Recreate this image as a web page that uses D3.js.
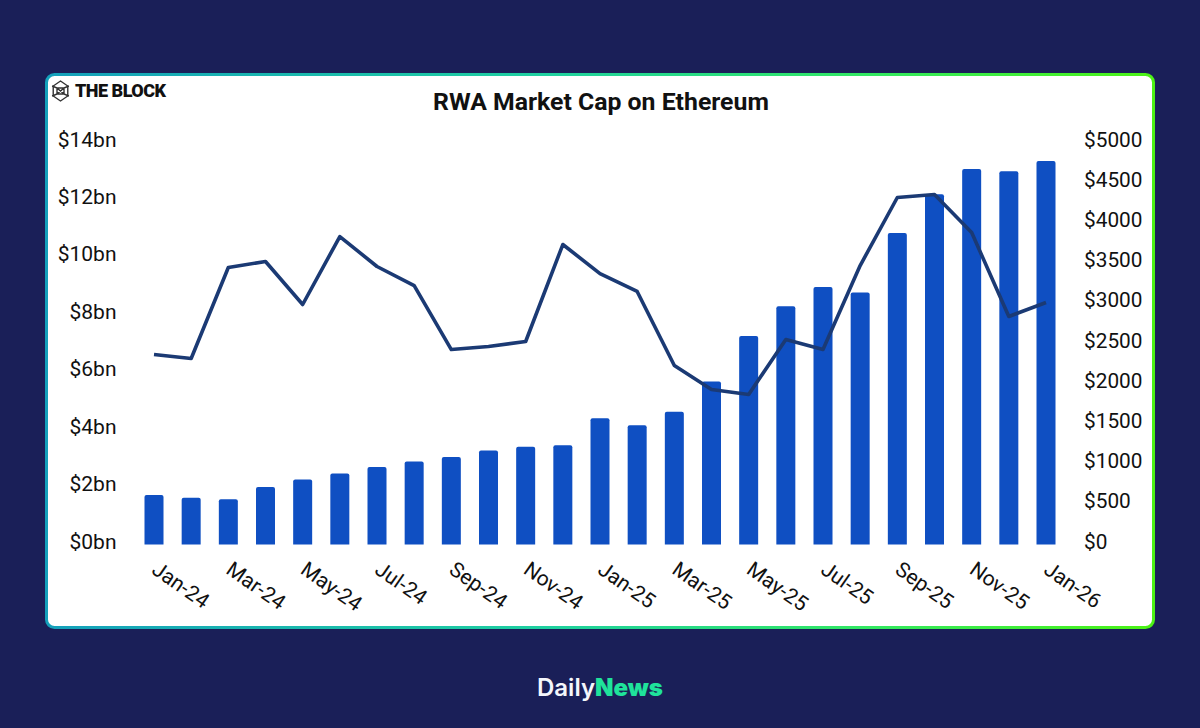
<!DOCTYPE html>
<html>
<head>
<meta charset="utf-8">
<script src="https://d3js.org/d3.v7.min.js"></script>
<style>
html, body { margin: 0; padding: 0; background: #1a1f58; }
svg { display: block; }
text { font-family: Roboto, sans-serif; fill: #111; }
.domain { display: none; }
.tick line { display: none; }
</style>
</head>
<body>
<svg id="chart"></svg>
<script>
const months = ["Jan-24","Feb-24","Mar-24","Apr-24","May-24","Jun-24","Jul-24","Aug-24","Sep-24","Oct-24","Nov-24","Dec-24",
  "Jan-25","Feb-25","Mar-25","Apr-25","May-25","Jun-25","Jul-25","Aug-25","Sep-25","Oct-25","Nov-25","Dec-25","Jan-26"];
// market cap, $bn (left axis)
const rwaCap = [1.72,1.63,1.58,2.0,2.26,2.47,2.7,2.89,3.05,3.27,3.4,3.46,4.4,4.15,4.62,5.68,7.26,8.3,8.97,8.78,10.85,12.2,13.08,13.0,13.36];
// ETH price, $ (right axis)
const ethPrice = [2363,2313,3445,3520,2985,3830,3458,3221,2425,2463,2525,3731,3370,3147,2226,1928,1866,2550,2425,3470,4316,4353,3880,2836,3010];
const leftTicks = [0,2,4,6,8,10,12,14];
const rightTicks = [0,500,1000,1500,2000,2500,3000,3500,4000,4500,5000];

const width = 1200, height = 728;
const svg = d3.select("#chart").attr("width", width).attr("height", height);

const defs = svg.append("defs");
const grad = defs.append("linearGradient").attr("id", "border")
  .attr("x1", "0%").attr("x2", "100%").attr("y1", "0%").attr("y2", "0%");
grad.append("stop").attr("offset", "0%").attr("stop-color", "#14a0bb");
grad.append("stop").attr("offset", "45%").attr("stop-color", "#1fd0a0");
grad.append("stop").attr("offset", "75%").attr("stop-color", "#33e860");
grad.append("stop").attr("offset", "100%").attr("stop-color", "#4cf214");

svg.append("rect").attr("width", width).attr("height", height).attr("fill", "#1a1f58");
svg.append("rect").attr("x", 46.5).attr("y", 74.5).attr("width", 1107).attr("height", 553)
  .attr("rx", 8).attr("fill", "#fff").attr("stroke", "url(#border)").attr("stroke-width", 3);

const x = d3.scalePoint().domain(months).range([154, 1046]);
const yLeft = d3.scaleLinear().domain([0, 14]).range([544.5, 142.5]);
const yRight = d3.scaleLinear().domain([0, 5000]).range([544.5, 142.5]);

const barW = 19;
svg.append("g").selectAll("path").data(months).enter().append("path")
  .attr("d", (d, i) => {
    const l = x(d) - barW / 2, r = l + barW, t = yLeft(rwaCap[i]), b = yLeft(0);
    return `M${l},${b}V${t + 2}Q${l},${t} ${l + 2},${t}H${r - 2}Q${r},${t} ${r},${t + 2}V${b}Z`;
  })
  .attr("fill", "#0f4fc2");

const line = d3.line().x((d, i) => x(months[i])).y(d => yRight(d));
svg.append("path").datum(ethPrice)
  .attr("d", line)
  .attr("fill", "none")
  .attr("stroke", "#1b3a74")
  .attr("stroke-width", 3.6)
  .attr("stroke-linejoin", "round");

// left axis
const gl = svg.append("g").attr("transform", "translate(116.5,0)")
  .call(d3.axisLeft(yLeft).tickValues(leftTicks).tickSize(0).tickPadding(0).tickFormat(d => "$" + d + "bn"));
gl.selectAll("text").attr("font-size", 21).attr("dy", "0.17em").style("font-family", "Roboto, sans-serif");

// right axis
const gr = svg.append("g").attr("transform", "translate(1084,0)")
  .call(d3.axisRight(yRight).tickValues(rightTicks).tickSize(0).tickPadding(0).tickFormat(d => "$" + d));
gr.selectAll("text").attr("font-size", 20.8).attr("dy", "0.17em").style("font-family", "Roboto, sans-serif");

// month axis, every second label
const gx = svg.append("g").attr("transform", "translate(0,544.5)")
  .call(d3.axisBottom(x).tickValues(months.filter((d, i) => i % 2 === 0)).tickSize(0).tickPadding(0));
gx.selectAll("text")
  .attr("font-size", 21)
  .attr("text-anchor", "start")
  .attr("dy", 0).attr("x", 0).attr("y", 0)
  .attr("transform", "translate(-4,28) rotate(35)")
  .style("font-family", "Roboto, sans-serif");

// title
svg.append("text").attr("x", 601).attr("y", 110).attr("text-anchor", "middle")
  .attr("font-size", 24.8).attr("font-weight", 700).text("RWA Market Cap on Ethereum");

// logo
const logo = svg.append("g").attr("transform", "translate(60.5,91)").attr("fill", "none").attr("stroke", "#333").attr("stroke-width", 1.4);
const hex = d3.range(6).map(i => {
  const a = Math.PI / 3 * i - Math.PI / 2;
  return [8.4 * Math.cos(a), 10 * Math.sin(a)];
});
logo.append("path").attr("d", d3.line()(hex) + "Z");
logo.append("path").attr("d", "M-8.4,-5L-3.5,-3L3.5,-3L8.4,-5M-8.4,5L-3.5,3L3.5,3L8.4,5M-3.5,-3L3.5,3M3.5,-3L-3.5,3M-3.5,-3V3M3.5,-3V3");
svg.append("text").attr("x", 75).attr("y", 97).attr("font-size", 18).attr("font-weight", 900)
  .attr("letter-spacing", -0.5).text("THE BLOCK");

// footer brand
const brand = svg.append("text").attr("x", 537).attr("y", 696).attr("font-size", 24).attr("font-weight", 600)
  .style("font-family", "Inter, sans-serif");
brand.append("tspan").style("fill", "#f4f6fb").text("Daily");
brand.append("tspan").style("fill", "#1fe39b").attr("font-weight", 900).text("News");
</script>
</body>
</html>
